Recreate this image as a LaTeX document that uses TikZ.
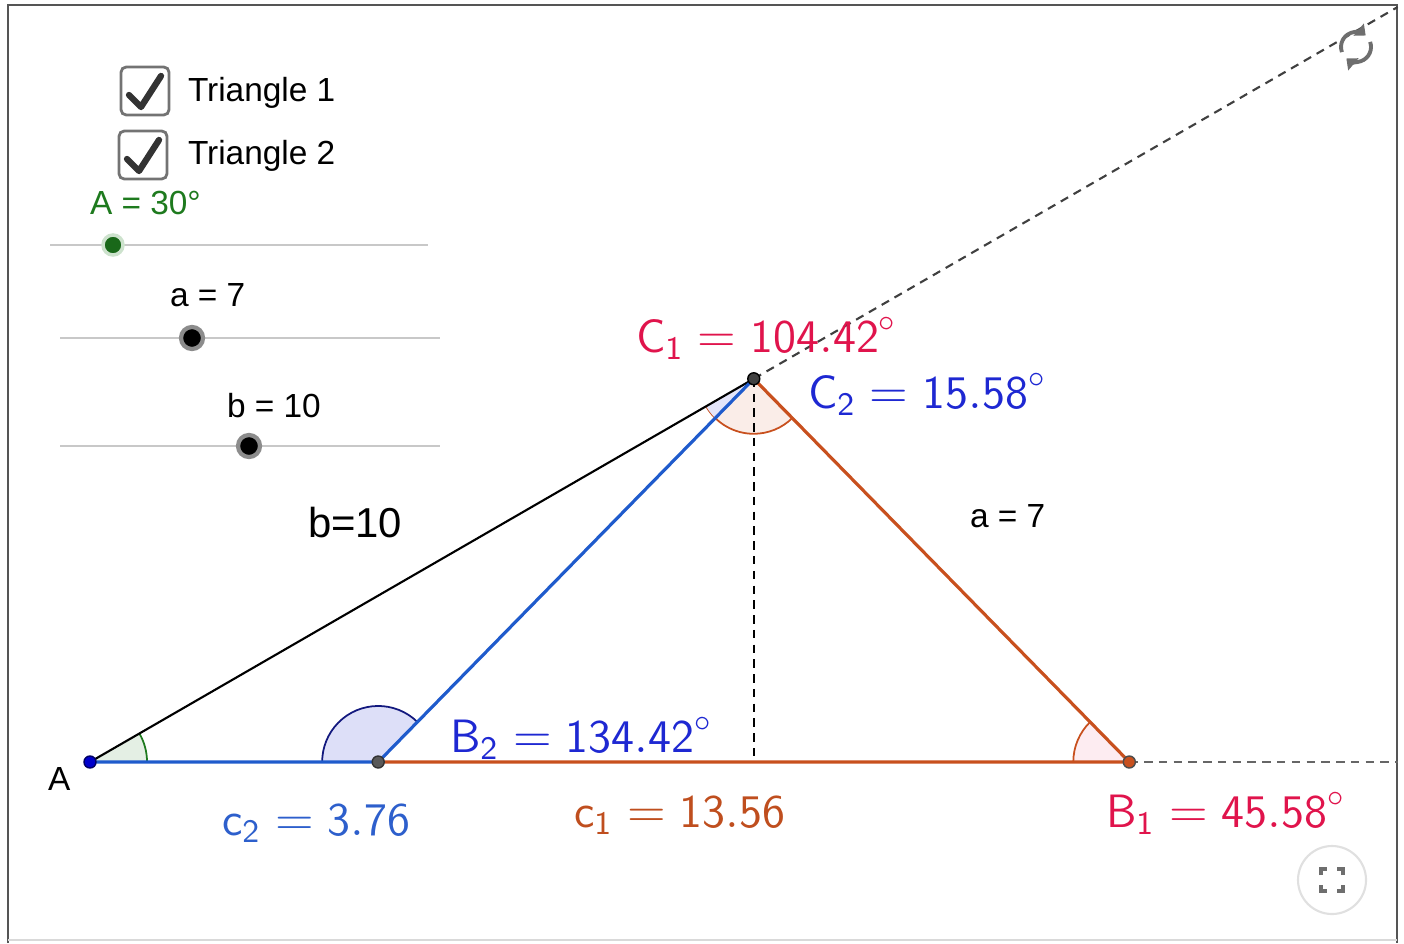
\documentclass[tikz,border=0pt]{standalone}
\usepackage{fontspec}
\newfontfamily\uifont{Liberation Sans}
\usetikzlibrary{arrows.meta, angles, calc}
\definecolor{triorange}{HTML}{C8501E}
\definecolor{triblue}{HTML}{1F5BCC}
\definecolor{labelred}{HTML}{E0144C}
\definecolor{labelblue}{HTML}{1E28D2}
\definecolor{sidered}{HTML}{BF4E1E}
\definecolor{sideblue}{HTML}{2D5FCC}
\definecolor{anglegreen}{HTML}{1E7A1E}
\definecolor{slidergray}{HTML}{C8C8C8}
\definecolor{framegray}{HTML}{555555}
\definecolor{icongray}{HTML}{6E6E6E}

\begin{document}
\begin{tikzpicture}[
    x=0.01cm, y=-0.01cm,
    every node/.style={inner sep=0pt, outer sep=0pt},
    >=Stealth,
    uitext/.style={font=\uifont\fontsize{9.5}{11}\selectfont, anchor=base west},
    mathlabel/.style={font=\sffamily\fontsize{13.3}{16}\selectfont, anchor=base west},
    vertex/.style={circle, minimum size=0.12cm, line width=0.4pt},
    dashline/.style={dash pattern=on 2.4pt off 1.8pt, line width=0.6pt},
    side/.style={line width=0.9pt},
    sliderline/.style={slidergray, line width=0.5pt},
    knob/.style={circle, minimum size=0.22cm, fill=black, draw=black!45, line width=1.2pt},
    checkbox/.style={draw=black!55, line width=0.8pt, rounded corners=1.5pt, minimum size=0.48cm},
    tick/.style={black!80, line width=1.8pt, line cap=round, line join=round},
]

\useasboundingbox (0,0) rectangle (1404,943);

% Frame
\draw[framegray, line width=0.6pt] (8,943) -- (8,5) -- (1397,5) -- (1397,943);
\draw[black!15, line width=0.4pt] (8,940) -- (1397,940);

% --- Left: checkboxes and sliders ---
\node[checkbox] (box1) at (145,91) {};
\draw[tick] ([shift={(-16,4)}]box1.center) -- ([shift={(-4,16)}]box1.center) -- ([shift={(16,-15)}]box1.center);
\node[uitext] (tri1) at (188,102) {Triangle 1};

\node[checkbox] (box2) at (143,155) {};
\draw[tick] ([shift={(-16,4)}]box2.center) -- ([shift={(-4,16)}]box2.center) -- ([shift={(16,-15)}]box2.center);
\node[uitext] (tri2) at (188,165) {Triangle 2};

\node[uitext, text=anglegreen] (sliderAlabel) at (90,215) {A = 30°};
\draw[sliderline] (50,245) -- (428,245);
\node[knob, minimum size=0.2cm, fill=anglegreen!85!black, draw=anglegreen!22, line width=1pt] (knobA) at (113,245) {};

\node[uitext] (slideralabel) at (170,307) {a = 7};
\draw[sliderline] (60,338) -- (440,338);
\node[knob] (knoba) at (192,338) {};

\node[uitext] (sliderblabel) at (227,417) {b = 10};
\draw[sliderline] (60,446) -- (440,446);
\node[knob] (knobb) at (249,446) {};

% --- Triangles ---
\begin{scope}[shift={(90,762)}, x=0.766cm, y=0.766cm]
  \coordinate (A) at (0,0);
  \coordinate (B2) at (3.76,0);
  \coordinate (B1) at (13.56,0);
  \coordinate (C) at (30:10);
  \coordinate (H) at (C |- A);
  \coordinate (farC) at (30:19.7);
  \coordinate (farB) at (17.06,0);

  % angle marks
  \pic[draw=anglegreen, fill=anglegreen!12, angle radius=0.57cm, line width=0.5pt] {angle = B1--A--C};
  \pic[draw=labelblue!60!black, fill=labelblue!15, angle radius=0.56cm, line width=0.5pt] {angle = C--B2--A};
  \pic[draw=triorange, fill=labelred!8, angle radius=0.56cm, line width=0.5pt] {angle = C--B1--A};
  \pic[draw=triorange, fill=triorange!10, angle radius=0.55cm, line width=0.5pt] {angle = A--C--B1};
  \pic[fill=labelblue!12, angle radius=0.55cm] {angle = A--C--B2};

  % dashed guides
  \draw[dashline, black!75] (C) -- (farC);
  \draw[dashline, black!60] (B1) -- (farB);
  \draw[dashline, black] (C) -- (H);

  % sides
  \draw[black, line width=0.6pt] (A) -- (C);
  \draw[side, triorange] (B2) -- (B1) -- (C);
  \draw[side, triblue] (A) -- (B2) -- (C);

  % vertices
  \node[vertex, fill=blue!80!black, draw=blue!40!black] (dotA) at (A) {};
  \node[vertex, fill=black!65, draw=black!80] (dotB2) at (B2) {};
  \node[vertex, fill=black!75, draw=black] (dotC) at (C) {};
  \node[vertex, fill=triorange, draw=black!70] (dotB1) at (B1) {};
\end{scope}

% --- Labels ---
\node[uitext] (labA) at (48,790) {A};
\node[uitext, font=\uifont\fontsize{11.9}{14}\selectfont] (labb) at (308,537) {b=10};
\node[uitext] (laba) at (970,527) {a = 7};

\node[mathlabel, text=labelred] (labC1) at (636,352) {$\mathsf{C}_{\mathsf{1}} = \mathsf{104.42}^{\circ}$};
\node[mathlabel, text=labelblue] (labC2) at (808,408) {$\mathsf{C}_{\mathsf{2}} = \mathsf{15.58}^{\circ}$};
\node[mathlabel, text=labelblue] (labB2) at (450,752) {$\mathsf{B}_{\mathsf{2}} = \mathsf{134.42}^{\circ}$};
\node[mathlabel, text=sideblue] (labc2) at (222,835) {$\mathsf{c}_{\mathsf{2}} = \mathsf{3.76}$};
\node[mathlabel, text=sidered] (labc1) at (574,827) {$\mathsf{c}_{\mathsf{1}} = \mathsf{13.56}$};
\node[mathlabel, text=labelred] (labB1) at (1106,827) {$\mathsf{B}_{\mathsf{1}} = \mathsf{45.58}^{\circ}$};

% --- Icons ---
\begin{scope}[shift={(1356,47)}, x=0.01cm, y=0.01cm]
  \draw[icongray, line width=1.1pt, -{Triangle[length=2.6pt, width=4.4pt]}] (200:15) arc[start angle=200, end angle=50, radius=0.15cm];
  \draw[icongray, line width=1.1pt, -{Triangle[length=2.6pt, width=4.4pt]}] (20:15) arc[start angle=20, end angle=-130, radius=0.15cm];
\end{scope}

\node[circle, minimum size=0.68cm, fill=white, draw=black!12, line width=0.6pt] (fullscreen) at (1332,880) {};
\foreach \sx/\sy in {-1/-1, 1/-1, -1/1, 1/1}
  \draw[icongray, line width=0.9pt] ([shift={(\sx*11,\sy*5)}]fullscreen.center) -- ++(0,\sy*6) -- ++(-\sx*6,0);

\end{tikzpicture}
\end{document}
